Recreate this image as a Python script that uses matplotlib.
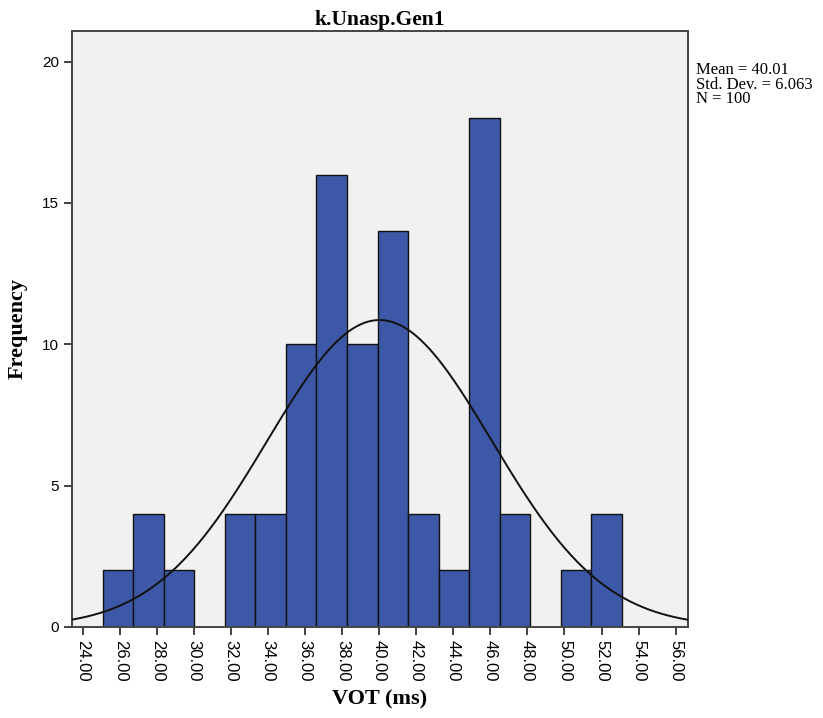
import numpy as np
import matplotlib.pyplot as plt

# histogram as read from the SPSS output (bin width 1.65)
bin_start = 25.05
bin_width = 1.65
counts = [2, 4, 2, 0, 4, 4, 10, 16, 10, 14, 4, 2, 18, 4, 0, 2, 4]
mean = 40.01
std_dev = 6.063
n = 100
x_ticks = [24, 26, 28, 30, 32, 34, 36, 38, 40, 42, 44, 46, 48, 50, 52, 54, 56]
y_ticks = [0, 5, 10, 15, 20]

edges = bin_start + bin_width * np.arange(len(counts) + 1)

fig = plt.figure(figsize=(8.23, 7.18), dpi=100)
ax = fig.add_axes([0.0875, 0.127, 0.748, 0.830])
ax.set_facecolor('#f0f1f0')

ax.bar(edges[:-1], counts, width=bin_width, align='edge',
       color='#3d58a7', edgecolor='#111111', linewidth=1.0, zorder=2)

# normal curve scaled to counts
xs = np.linspace(23.4, 56.65, 400)
ys = n * bin_width / (std_dev * np.sqrt(2 * np.pi)) * np.exp(-0.5 * ((xs - mean) / std_dev) ** 2)
ax.plot(xs, ys, color='#111111', linewidth=1.4, zorder=3)

ax.set_xlim(23.4, 56.65)
ax.set_ylim(0, 21.09)
ax.set_xticks(x_ticks)
ax.set_xticklabels(["{:.2f}".format(t) for t in x_ticks], rotation=-90,
                   family='Liberation Sans', fontsize=12)
ax.set_yticks(y_ticks)
ax.set_yticklabels([str(t) for t in y_ticks], family='Liberation Sans', fontsize=11)
ax.tick_params(direction='out', length=6, width=1.2, color='#222222')

for s in ax.spines.values():
    s.set_color('#444444')
    s.set_linewidth(1.4)

ax.set_title('k.Unasp.Gen1', family='Liberation Serif', fontweight='bold',
             fontsize=15.5, pad=4)
ax.set_xlabel('VOT (ms)', family='Liberation Serif', fontweight='bold',
              fontsize=16, labelpad=6)
ax.set_ylabel('Frequency', family='Liberation Serif', fontweight='bold',
              fontsize=16, labelpad=10)

fig.text(0.846, 0.914,
         "Mean = {:.2f}\nStd. Dev. = {:.3f}\nN = {}".format(mean, std_dev, n),
         family='Liberation Serif', fontsize=12, va='top', ha='left',
         linespacing=0.9)

fig.savefig('out.png', dpi=100)
